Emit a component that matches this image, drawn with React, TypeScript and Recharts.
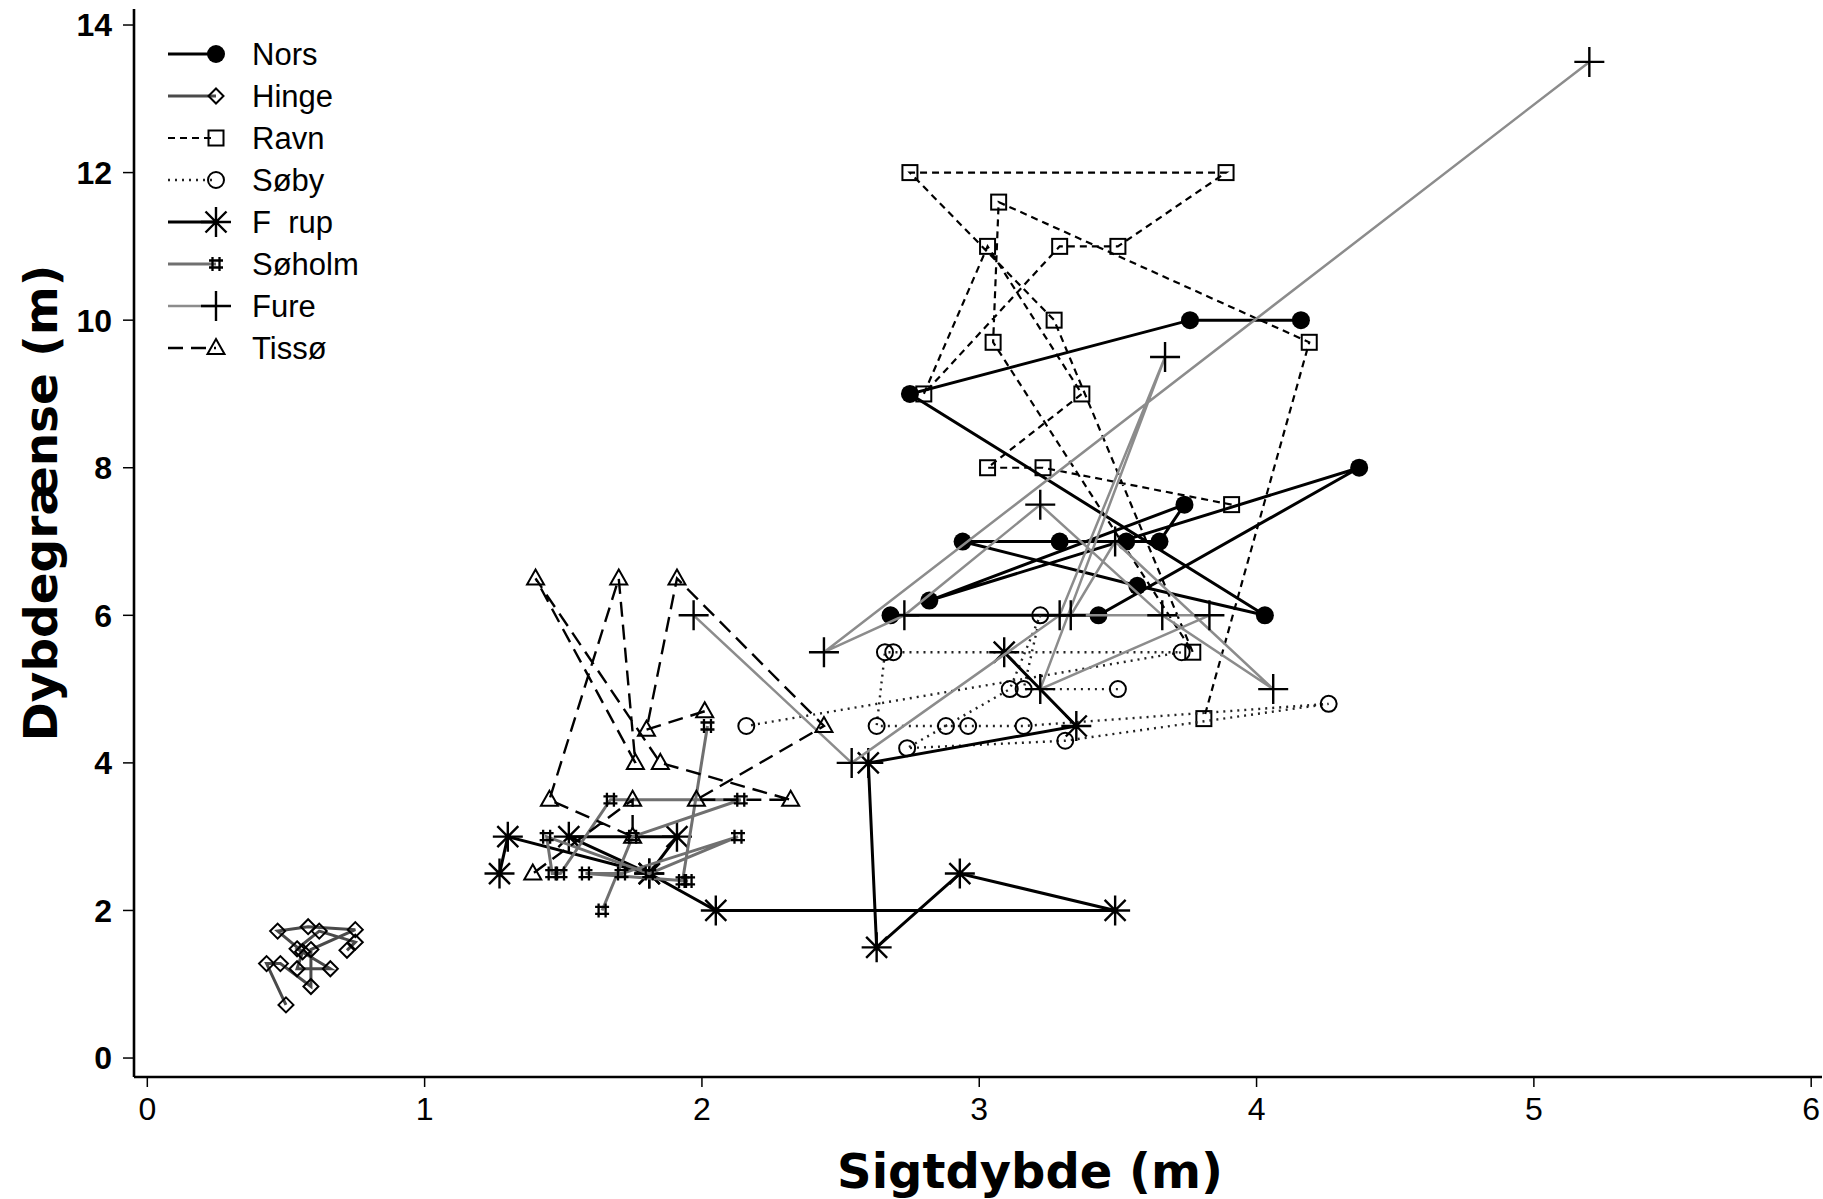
import React from 'react';
import { ScatterChart, Scatter, XAxis, YAxis, Legend, Label } from 'recharts';

// Sigtdybde (x) og dybdegrænse (y) pr. sø, i den rækkefølge punkterne er forbundet
const norsSigt = [4.16, 3.76, 2.75, 4.03, 3.57, 2.94, 3.29, 3.53, 3.65, 3.74, 2.82, 4.37, 3.43, 2.68];
const norsDybde = [10, 10, 9, 6, 6.4, 7, 7, 7, 7, 7.5, 6.2, 8, 6, 6];

const hingeSigt = [0.5, 0.43, 0.48, 0.59, 0.59, 0.75, 0.58, 0.47, 0.56, 0.54, 0.66, 0.54, 0.62, 0.75, 0.72];
const hingeDybde = [0.72, 1.28, 1.28, 0.97, 1.47, 1.74, 1.78, 1.72, 1.44, 1.21, 1.21, 1.48, 1.72, 1.57, 1.46];

const ravnSigt = [3.91, 3.23, 3.03, 3.37, 3.03, 2.8, 3.29, 3.5, 3.89, 2.75, 3.27, 3.77, 3.05, 3.07, 4.19, 3.81];
const ravnDybde = [7.5, 8, 8, 9, 11, 9, 11, 11, 12, 12, 10, 5.5, 9.7, 11.6, 9.7, 4.6];

const soebySigt = [3.5, 3.16, 3.22, 3.11, 2.74, 3.31, 4.26, 3.16, 2.96, 2.88, 2.63, 2.66, 2.69, 3.73, 2.16];
const soebyDybde = [5, 5, 6, 5, 4.2, 4.3, 4.8, 4.5, 4.5, 4.5, 4.5, 5.5, 5.5, 5.5, 4.5];

const faarupSigt = [1.27, 1.3, 1.81, 1.52, 1.91, 1.81, 2.05, 3.49, 2.93, 2.63, 2.6, 3.35, 3.09];
const faarupDybde = [2.5, 3, 2.5, 3, 3, 2.5, 2, 2, 2.5, 1.5, 4, 4.5, 5.5];

const soeholmSigt = [1.64, 1.75, 2.14, 1.67, 1.49, 1.46, 1.44, 1.81, 2.13, 1.71, 1.58, 1.95, 1.93, 2.02];
const soeholmDybde = [2, 3, 3.5, 3.5, 2.5, 2.5, 3, 2.5, 3, 2.5, 2.5, 2.4, 2.4, 4.5];

const fureSigt = [1.97, 2.54, 3.29, 3.67, 3.22, 3.83, 3.33, 3.49, 4.06, 3.66, 3.22, 2.73, 2.44, 5.2];
const fureDybde = [6, 4, 6, 9.5, 5, 6, 6, 7, 5, 6, 7.5, 6, 5.5, 13.5];

const tissoeSigt = [2.01, 1.8, 1.91, 2.44, 1.98, 2.32, 1.85, 1.4, 1.76, 1.7, 1.45, 1.75, 1.75, 1.39];
const tissoeDybde = [4.7, 4.45, 6.5, 4.5, 3.5, 3.5, 4, 6.5, 4, 6.5, 3.5, 3, 3.5, 2.5];

const xTicks = [0, 1, 2, 3, 4, 5, 6];
const yTicks = [0, 2, 4, 6, 8, 10, 12, 14];

const toPoints = (xs: number[], ys: number[]) => xs.map((x, i) => ({ x, y: ys[i] }));

type Kind = 'dot' | 'diamond' | 'square' | 'circle' | 'asterisk' | 'hash' | 'plus' | 'triangle';

const series: { name: string; points: { x: number; y: number }[]; kind: Kind; stroke: string; width: number; dash?: string }[] = [
  { name: 'Nors', points: toPoints(norsSigt, norsDybde), kind: 'dot', stroke: '#000', width: 3 },
  { name: 'Hinge', points: toPoints(hingeSigt, hingeDybde), kind: 'diamond', stroke: '#4a4a4a', width: 3 },
  { name: 'Ravn', points: toPoints(ravnSigt, ravnDybde), kind: 'square', stroke: '#000', width: 2.2, dash: '7 5' },
  { name: 'Søby', points: toPoints(soebySigt, soebyDybde), kind: 'circle', stroke: '#222', width: 2.4, dash: '2 5' },
  { name: 'F\u00A0\u00A0rup', points: toPoints(faarupSigt, faarupDybde), kind: 'asterisk', stroke: '#000', width: 3 },
  { name: 'Søholm', points: toPoints(soeholmSigt, soeholmDybde), kind: 'hash', stroke: '#707070', width: 3 },
  { name: 'Fure', points: toPoints(fureSigt, fureDybde), kind: 'plus', stroke: '#8c8c8c', width: 2.5 },
  { name: 'Tissø', points: toPoints(tissoeSigt, tissoeDybde), kind: 'triangle', stroke: '#000', width: 2.4, dash: '15 8' },
];

const sans = '"Liberation Sans", Arial, Helvetica, sans-serif';

const Marker = ({ kind, cx, cy }: { kind: Kind; cx: number; cy: number }) => {
  const s = { fill: 'none', stroke: '#000', strokeWidth: 2 };
  switch (kind) {
    case 'dot':
      return <circle cx={cx} cy={cy} r={9} fill="#000" />;
    case 'diamond':
      return <path d={`M${cx},${cy - 7.5}L${cx + 7.5},${cy}L${cx},${cy + 7.5}L${cx - 7.5},${cy}Z`} {...s} />;
    case 'square':
      return <rect x={cx - 7.5} y={cy - 7.5} width={15} height={15} {...s} />;
    case 'circle':
      return <circle cx={cx} cy={cy} r={8} {...s} />;
    case 'asterisk':
      return (
        <path
          d={`M${cx},${cy - 15}V${cy + 15}M${cx - 15},${cy}H${cx + 15}M${cx - 10.5},${cy - 10.5}L${cx + 10.5},${cy + 10.5}M${cx - 10.5},${cy + 10.5}L${cx + 10.5},${cy - 10.5}`}
          {...s}
          strokeWidth={2.4}
        />
      );
    case 'hash':
      return (
        <path
          d={`M${cx - 3.5},${cy - 7}V${cy + 7}M${cx + 3.5},${cy - 7}V${cy + 7}M${cx - 7},${cy - 3.5}H${cx + 7}M${cx - 7},${cy + 3.5}H${cx + 7}`}
          {...s}
          strokeWidth={2.3}
        />
      );
    case 'plus':
      return <path d={`M${cx},${cy - 15}V${cy + 15}M${cx - 15},${cy}H${cx + 15}`} {...s} strokeWidth={2.4} />;
    case 'triangle':
      return <path d={`M${cx},${cy - 9}L${cx + 8.5},${cy + 6}L${cx - 8.5},${cy + 6}Z`} {...s} />;
  }
  return null;
};

const LegendBox = () => (
  <svg width={420} height={380} style={{ display: 'block' }}>
    {series.map((s, i) => {
      const cy = 54 + i * 42;
      return (
        <g key={s.name}>
          <line x1={168} x2={216} y1={cy} y2={cy} stroke={s.stroke} strokeWidth={s.width} strokeDasharray={s.dash} />
          <Marker kind={s.kind} cx={216} cy={cy} />
          <text x={252} y={cy + 11} fontFamily={sans} fontSize={31} fill="#000">
            {s.name}
          </text>
        </g>
      );
    })}
  </svg>
);

const XTitle = (props: any) => {
  const vb = props.viewBox;
  return (
    <text x={vb.x + vb.width / 2 + 52} y={vb.y + 111} textAnchor="middle" fontFamily='"DejaVu Sans", sans-serif' fontWeight={700} fontSize={48} fill="#000">
      Sigtdybde (m)
    </text>
  );
};

const YTitle = (props: any) => {
  const vb = props.viewBox;
  const cx = 57;
  const cy = vb.y + vb.height / 2 - 40;
  return (
    <text x={cx} y={cy} transform={`rotate(-90 ${cx} ${cy})`} textAnchor="middle" fontFamily='"DejaVu Sans", sans-serif' fontWeight={700} fontSize={47} fill="#000">
      Dybdegrænse (m)
    </text>
  );
};

export default function App() {
  return (
    <div style={{ position: 'absolute', left: 0, top: 0, background: '#fff' }}>
      <ScatterChart width={1823} height={1199} margin={{ top: 9, right: 1, bottom: 0, left: 0 }}>
        <XAxis
          dataKey="x"
          type="number"
          domain={[-0.048, 6.039]}
          allowDataOverflow
          ticks={xTicks}
          height={122}
          tickSize={10}
          tickMargin={10}
          axisLine={{ stroke: '#000', strokeWidth: 2.6 }}
          tickLine={{ stroke: '#000', strokeWidth: 1.5 }}
          tick={{ fontSize: 32, fontFamily: sans, fill: '#000' }}
        >
          <Label content={XTitle} />
        </XAxis>
        <XAxis xAxisId="top" orientation="top" type="number" domain={[-0.048, 6.039]} height={0} tick={false} tickLine={false} axisLine={{ stroke: '#000', strokeWidth: 2.6 }} />
        <YAxis
          dataKey="y"
          type="number"
          domain={[-0.257, 14.217]}
          allowDataOverflow
          ticks={yTicks}
          width={134}
          tickSize={11}
          tickMargin={11}
          axisLine={{ stroke: '#000', strokeWidth: 2.6 }}
          tickLine={{ stroke: '#000', strokeWidth: 1.5 }}
          tick={{ fontSize: 32, fontFamily: sans, fontWeight: 700, fill: '#000' }}
        >
          <Label content={YTitle} />
        </YAxis>
        <YAxis yAxisId="right" orientation="right" type="number" domain={[-0.257, 14.217]} width={0} tick={false} tickLine={false} axisLine={{ stroke: '#c8c8c8', strokeWidth: 1 }} />
        {series.map((s) => (
          <Scatter
            key={s.name}
            name={s.name}
            data={s.points}
            fill={s.stroke}
            line={{ stroke: s.stroke, strokeWidth: s.width, strokeDasharray: s.dash, fill: 'none' }}
            lineType="joint"
            lineJointType="linear"
            shape={(p: any) => <Marker kind={s.kind} cx={p.cx} cy={p.cy} />}
            isAnimationActive={false}
          />
        ))}
        <Legend
          layout="horizontal"
          verticalAlign="middle"
          align="center"
          wrapperStyle={{ left: 0, top: 0, width: 420, height: 380 }}
          content={() => <LegendBox />}
        />
      </ScatterChart>
    </div>
  );
}
